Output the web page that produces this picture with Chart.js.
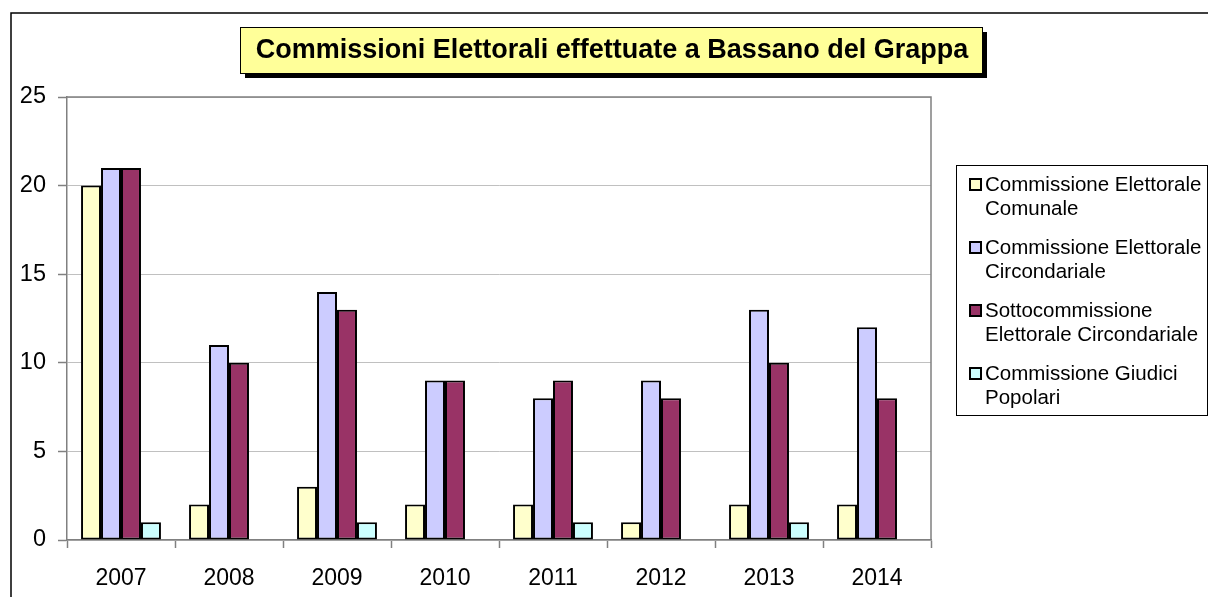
<!DOCTYPE html>
<html>
<head>
<meta charset="utf-8">
<script src="https://cdn.jsdelivr.net/npm/chart.js@4.4.0/dist/chart.umd.min.js"></script>
<style>
  html, body { margin: 0; padding: 0; background: #fff; }
  #wrap { width: 1208px; height: 597px; position: relative; }
</style>
</head>
<body>
<div id="wrap"><canvas id="myChart" width="1208" height="597"></canvas></div>
<script>
// Chart data.
const years = ["2007", "2008", "2009", "2010", "2011", "2012", "2013", "2014"];
const comunale = [20, 2, 3, 2, 2, 1, 2, 2];
const circondariale = [21, 11, 14, 9, 8, 9, 13, 12];
const sottocommissione = [21, 10, 13, 9, 9, 8, 10, 8];
const giudiciPopolari = [1, 0, 1, 0, 1, 0, 1, 0];

const seriesNames = [
  "Commissione Elettorale Comunale",
  "Commissione Elettorale Circondariale",
  "Sottocommissione Elettorale Circondariale",
  "Commissione Giudici Popolari",
];
// how the legend wraps each name
const legendLines = [
  ["Commissione Elettorale", "Comunale"],
  ["Commissione Elettorale", "Circondariale"],
  ["Sottocommissione", "Elettorale Circondariale"],
  ["Commissione Giudici", "Popolari"],
];
const seriesColors = ["#FFFFCC", "#CCCCFF", "#993366", "#CCFFFF"];
const titleText = "Commissioni Elettorali effettuate a Bassano del Grappa";

const FONT = 'Arial, "Liberation Sans", sans-serif';

function makeSet(i, values) {
  return {
    label: seriesNames[i],
    data: values,
    backgroundColor: seriesColors[i],
    borderColor: "#000000",
    // no outline on empty bars, like Excel
    borderWidth: (ctx) => (ctx.raw ? 2 : 0),
    borderSkipped: false,
    categoryPercentage: 0.74,
    barPercentage: 1.0,
  };
}

// Outer border, title box, legend and the plot frame.
const decorations = {
  id: "decorations",
  beforeDraw(chart) {
    const c = chart.ctx;
    c.save();
    c.fillStyle = "#ffffff";
    c.fillRect(0, 0, chart.width, chart.height);
    c.strokeStyle = "#000000";
    c.lineWidth = 1.5;
    c.beginPath();
    c.moveTo(11, chart.height);
    c.lineTo(11, 13);
    c.lineTo(chart.width, 13);
    c.stroke();
    c.restore();
  },
  beforeDatasetsDraw(chart) {
    const a = chart.chartArea;
    const c = chart.ctx;
    c.save();
    c.strokeStyle = "#808080";
    c.lineWidth = 1.5;
    c.beginPath();
    c.moveTo(a.left, a.top);
    c.lineTo(a.right, a.top);
    c.lineTo(a.right, a.bottom);
    c.stroke();
    c.restore();
  },
  afterDraw(chart) {
    const c = chart.ctx;
    c.save();
    // title box with shadow
    const bx = 240, by = 27, bw = 742, bh = 46;
    c.fillStyle = "#000000";
    c.fillRect(bx + 5, by + 5, bw, bh);
    c.fillStyle = "#FFFF99";
    c.fillRect(bx, by, bw, bh);
    c.strokeStyle = "#000000";
    c.lineWidth = 1;
    c.strokeRect(bx + 0.5, by + 0.5, bw, bh);
    c.fillStyle = "#000000";
    c.font = "bold 27px " + FONT;
    c.textAlign = "center";
    c.textBaseline = "middle";
    c.fillText(titleText, bx + bw / 2 + 1, by + bh / 2 + 1);

    // legend
    const lx = 956, ly = 165, lw = 251, lh = 250;
    c.fillStyle = "#ffffff";
    c.fillRect(lx, ly, lw, lh);
    c.strokeStyle = "#000000";
    c.lineWidth = 1;
    c.strokeRect(lx + 0.5, ly + 0.5, lw, lh);
    c.font = "20.5px " + FONT;
    c.textAlign = "left";
    c.textBaseline = "middle";
    chart.data.datasets.forEach((ds, i) => {
      const y0 = ly + 20 + i * 63;
      c.fillStyle = ds.backgroundColor;
      c.fillRect(970, y0 - 6, 11, 11);
      c.strokeStyle = "#000000";
      c.lineWidth = 2;
      c.strokeRect(970, y0 - 6, 11, 11);
      c.fillStyle = "#000000";
      legendLines[i].forEach((t, k) => {
        c.fillText(t, 985, y0 + k * 24);
      });
    });
    c.restore();
  },
};

const config = {
  type: "bar",
  data: {
    labels: years,
    datasets: [
      makeSet(0, comunale),
      makeSet(1, circondariale),
      makeSet(2, sottocommissione),
      makeSet(3, giudiciPopolari),
    ],
  },
  options: {
    responsive: false,
    animation: false,
    layout: { padding: { top: 97, right: 277, left: 0, bottom: 0 } },
    plugins: {
      legend: { display: false },
      title: { display: false },
      tooltip: { enabled: false },
    },
    scales: {
      x: {
        afterFit(scale) { scale.height = 57; },
        grid: {
          offset: true,
          drawOnChartArea: false,
          drawTicks: true,
          tickLength: 8,
          tickColor: "#808080",
          tickWidth: 1.5,
        },
        border: { color: "#808080", width: 1.5 },
        ticks: {
          color: "#000000",
          font: { family: FONT, size: 23 },
          padding: 17,
        },
      },
      y: {
        min: 0,
        max: 25,
        afterFit(scale) { scale.width = 67; },
        grid: {
          color: "#c0c0c0",
          lineWidth: 1,
          tickLength: 9,
          tickColor: "#808080",
          tickWidth: 1.5,
        },
        border: { color: "#808080", width: 1.5 },
        ticks: {
          stepSize: 5,
          color: "#000000",
          font: { family: FONT, size: 23.5 },
          padding: 12,
        },
      },
    },
  },
  plugins: [decorations],
};

let myChart = new Chart(document.getElementById("myChart"), config);
</script>
</body>
</html>
